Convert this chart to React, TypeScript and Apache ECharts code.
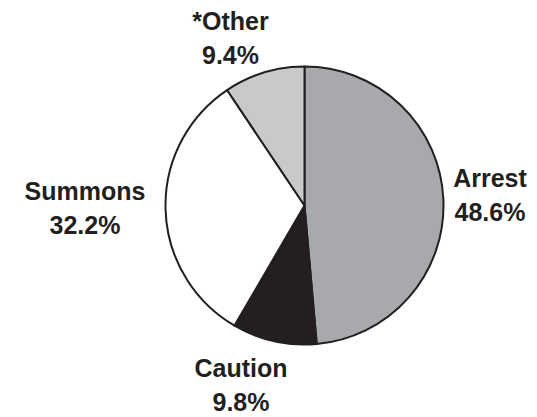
import React, { useEffect, useRef } from "react";
import * as echarts from "echarts";

const categories = ["Arrest", "Caution", "Summons", "*Other"];
const values = [48.6, 9.8, 32.2, 9.4];
const percentLabels = ["48.6%", "9.8%", "32.2%", "9.4%"];

// layout (not data): label block centres in pixels, slice fills
const labelCenters: [number, number][] = [
  [490, 195],
  [241, 385],
  [85, 208],
  [230.5, 38],
];
const sliceColors = ["#a7a9ac", "#231f20", "#ffffff", "#c8c9cb"];

export default function App() {
  const ref = useRef<HTMLDivElement>(null);
  useEffect(() => {
    if (!ref.current) return;
    const chart = echarts.init(ref.current, null, { renderer: "svg" });
    chart.setOption({
      animation: false,
      backgroundColor: "#ffffff",
      series: [
        {
          type: "pie",
          center: [304.5, 205.5],
          radius: [0, 139],
          startAngle: 90,
          clockwise: true,
          avoidLabelOverlap: false,
          itemStyle: { borderColor: "#231f20", borderWidth: 2 },
          label: {
            show: true,
            position: "outside",
            fontFamily: "Liberation Sans, Arial, sans-serif",
            fontWeight: "bold",
            fontSize: 25,
            lineHeight: 34,
            color: "#231f20",
            formatter: (p: any) => `${p.name}\n${percentLabels[p.dataIndex]}`,
          },
          labelLine: { show: false },
          labelLayout: (params: any) => {
            const c = labelCenters[params.dataIndex];
            return { x: c[0], y: c[1], align: "center", verticalAlign: "middle" };
          },
          emphasis: { disabled: true },
          data: categories.map((name, i) => ({
            name,
            value: values[i],
            itemStyle: { color: sliceColors[i] },
          })),
        },
      ],
    });
    return () => chart.dispose();
  }, []);
  return (
    <div
      ref={ref}
      style={{ position: "fixed", left: 0, top: 0, width: 537, height: 417 }}
    />
  );
}
